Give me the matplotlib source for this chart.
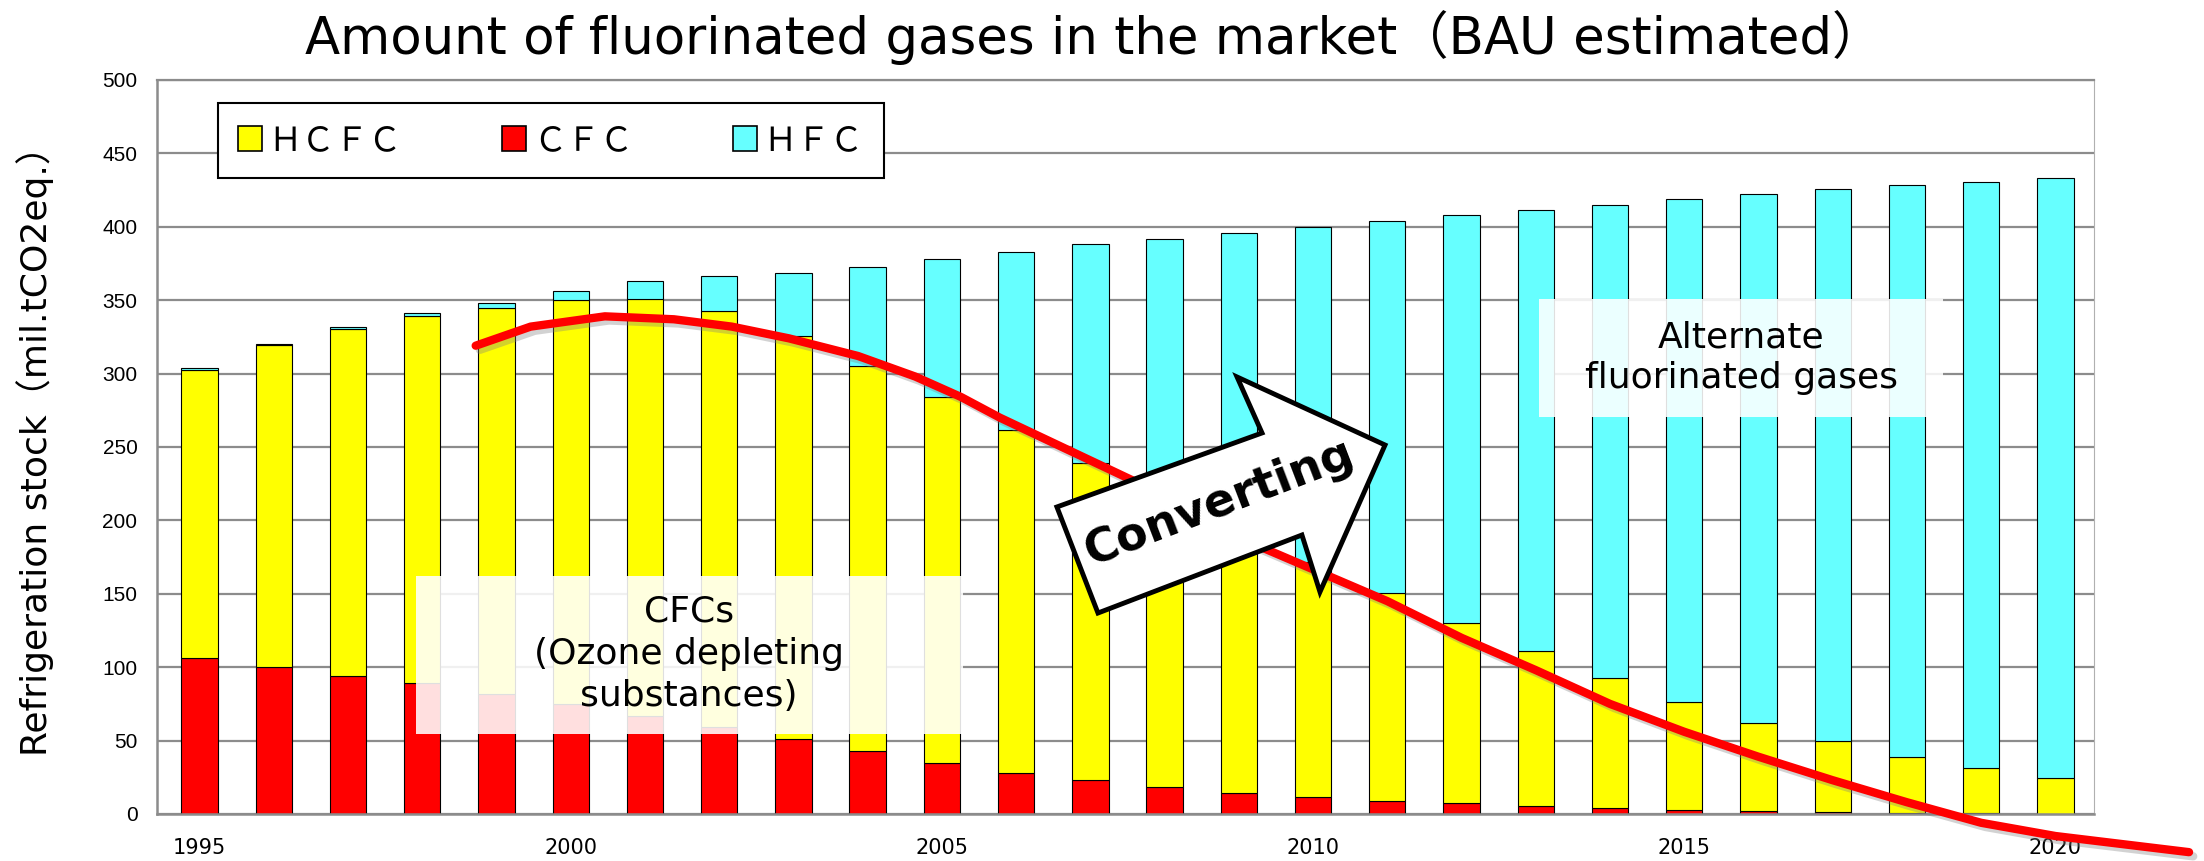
import matplotlib
matplotlib.use("Agg")
import matplotlib.pyplot as plt
import matplotlib.patheffects as pe
from matplotlib.patches import Patch, Polygon, Rectangle
import numpy as np

plt.rcParams['font.family'] = ['DejaVu Sans', 'Noto Sans CJK JP']

# data (mil.tCO2eq.)
years = list(range(1995, 2021))
cfc = [106, 100, 94, 89, 82, 75, 67, 59, 51, 43, 35, 28, 23, 18.5, 14.5,
       11.5, 9, 7.3, 5.5, 4, 3, 1.7, 1.1, 0.7, 0.5, 0.2]
hcfc = [196.5, 219.2, 236.4, 250.5, 262.5, 275, 284, 283.7, 274.6, 262.3,
        248.8, 233.5, 216, 197.5, 179.5, 160.2, 141.8, 123.1, 105.3, 88.4,
        73, 60.3, 48.4, 38.3, 30.6, 24.1]
hfc = [1.1, 0.9, 1.6, 2.1, 3.5, 6.2, 12, 24, 43.1, 67.3, 94.1, 121.5, 149.6,
       175.6, 201.7, 228.1, 253.1, 277.3, 300.3, 322.6, 342.9, 360.4, 376.1,
       389.5, 399.7, 409]

# hand-drawn trend of ozone depleting substances (x = year index)
trend_x = [3.72, 4.46, 5.46, 6.39, 7.17, 7.94, 8.87, 9.64, 10.26, 10.78,
           12.58, 14.29, 16.0, 17.0, 18.0, 19.0, 20.0, 21.0, 22.0, 23.0,
           24.0, 25.0, 26.8]
trend_y = [319, 332, 339, 337, 332, 324, 312, 298, 284, 270,
           227, 182, 145, 120, 98, 75, 56, 39, 23, 8,
           -6, -15, -26]

labels = ['ＨＣＦＣ', 'ＣＦＣ', 'ＨＦＣ']
c_hcfc, c_cfc, c_hfc = '#FFFF00', '#FF0000', '#66FFFF'

fig = plt.figure(figsize=(22.04, 8.61), dpi=100)
ax = fig.add_axes([0.0712, 0.0546, 0.8789, 0.8525])

x = np.arange(len(years))
w = 0.49
cfc_a = np.array(cfc)
hcfc_a = np.array(hcfc)
ax.bar(x, cfc, w, color=c_cfc, edgecolor='black', linewidth=0.8, zorder=2)
ax.bar(x, hcfc, w, bottom=cfc_a, color=c_hcfc, edgecolor='black', linewidth=0.8, zorder=2)
ax.bar(x, hfc, w, bottom=cfc_a + hcfc_a, color=c_hfc, edgecolor='black', linewidth=0.8, zorder=2)

ax.set_xlim(-0.574, 25.52)
ax.set_ylim(0, 500)
ax.set_yticks(range(0, 501, 50))
ax.yaxis.grid(True, color='#8c8c8c', linewidth=1.6, zorder=0)
ax.set_axisbelow(True)
ax.set_xticks(x[::5])
ax.set_xticklabels([str(y) for y in years[::5]], fontsize=15)
ax.tick_params(axis='x', length=0, pad=17)
ax.tick_params(axis='y', length=0, pad=14)
for t in ax.get_yticklabels():
    t.set_fontfamily('Liberation Sans')
    t.set_fontsize(15)
for s in ['left', 'bottom']:
    ax.spines[s].set_color('#8c8c8c')
    ax.spines[s].set_linewidth(1.8)
ax.spines['top'].set_color('#8c8c8c')
ax.spines['top'].set_linewidth(1.6)
ax.spines['right'].set_color('#b0b0b0')
ax.spines['right'].set_linewidth(0.8)

# trend line
ax.plot(trend_x, trend_y, color='#FF0000', linewidth=6, solid_capstyle='round',
        clip_on=False, zorder=5,
        path_effects=[pe.SimpleLineShadow(offset=(3, -3), shadow_color='gray', alpha=0.35),
                      pe.Normal()])

# legend
handles = [Patch(facecolor=c, edgecolor='black', linewidth=1.2) for c in (c_hcfc, c_cfc, c_hfc)]
leg = ax.legend(handles, labels, loc='upper left', bbox_to_anchor=(0.0315, 0.9687),
                borderaxespad=0, ncol=3, fancybox=False, framealpha=1,
                prop={'family': ['Noto Sans CJK JP'], 'size': 24},
                handlelength=0.72, handleheight=0.75, handletextpad=0.2,
                columnspacing=3.0, borderpad=0.6)
leg.get_frame().set_edgecolor('black')
leg.get_frame().set_linewidth(1.5)
leg.set_zorder(8)

# text boxes
ax.add_patch(Rectangle((0.1337, 0.109), 0.2824, 0.215, transform=ax.transAxes,
                       facecolor='white', alpha=0.88, edgecolor='none', zorder=6))
ax.text(0.2747, 0.218, 'CFCs\n(Ozone depleting\nsubstances)', transform=ax.transAxes,
        ha='center', va='center', fontsize=26, linespacing=1.3, zorder=7)

ax.add_patch(Rectangle((0.7135, 0.5409), 0.2085, 0.1607, transform=ax.transAxes,
                       facecolor='white', alpha=0.88, edgecolor='none', zorder=6))
ax.text(0.8178, 0.6213, 'Alternate\nfluorinated gases', transform=ax.transAxes,
        ha='center', va='center', fontsize=26, linespacing=1.25, zorder=7)

# "Converting" block arrow
arrow_pts = [(0.4858, 0.2738), (0.4646, 0.4183), (0.5705, 0.5191), (0.5576, 0.5954),
             (0.6340, 0.5027), (0.6004, 0.3025), (0.5911, 0.3801)]
ax.add_patch(Polygon(arrow_pts, closed=True, transform=ax.transAxes, facecolor='white',
                     edgecolor='black', linewidth=3.5, joinstyle='miter', zorder=9))
ax.text(0.5488, 0.4237, 'Converting', transform=ax.transAxes, rotation=21,
        rotation_mode='anchor', ha='center', va='center', fontsize=33,
        fontweight='bold', zorder=10)

fig.text(0.4964, 0.956, 'Amount of fluorinated gases in the market（BAU estimated）',
         ha='center', va='center', fontsize=37)
fig.text(0.016, 0.487, 'Refrigeration stock（mil.tCO2eq.）', rotation=90,
         ha='center', va='center', fontsize=26)

fig.savefig('out.png', dpi=100)
